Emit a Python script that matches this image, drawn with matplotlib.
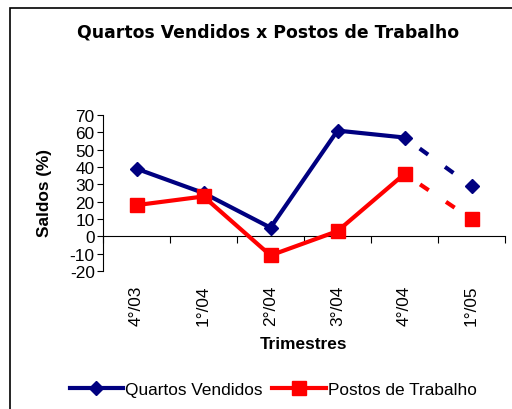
import matplotlib
matplotlib.use("Agg")
import matplotlib.pyplot as plt
from matplotlib.patches import Rectangle
from matplotlib.transforms import blended_transform_factory

trimestres = ["4°/03", "1°/04", "2°/04", "3°/04", "4°/04", "1°/05"]
quartos = [39, 25, 5, 61, 57, 29]
postos = [18, 23, -11, 3, 36, 10]

NAVY, RED = "#000080", "#FF0000"
FS = 12.4
plt.rcParams["font.family"] = ["Liberation Sans", "DejaVu Sans"]
plt.rcParams["axes.unicode_minus"] = False


def main():
    fig = plt.figure(figsize=(5.12, 4.10), dpi=100)
    fig.patches.append(Rectangle((10 / 512, -0.1), 1.2, 1 - 9 / 410 + 0.1,
                                 transform=fig.transFigure, fill=False,
                                 edgecolor="black", lw=1.2))
    ax = fig.add_axes([103 / 512, 1 - 272 / 410, 402 / 512, 156 / 410])
    xs = list(range(len(trimestres)))

    # solid part (observed) + dashed part (forecast)
    for vals, c, mk, ms in [(quartos, NAVY, "D", 7.5), (postos, RED, "s", 9.5)]:
        ax.plot(xs[:-1], vals[:-1], "-", color=c, lw=3, marker=mk, ms=ms, zorder=3)
        ax.plot(xs[-2:], vals[-2:], color=c, lw=3, ls=(3, (2.5, 5)), zorder=3)
        ax.plot(xs[-1:], vals[-1:], ls="none", color=c, marker=mk, ms=ms, zorder=3)

    ax.set_xlim(-0.5, len(trimestres) - 0.5)
    ax.set_ylim(-20, 70)
    ax.set_yticks(range(-20, 71, 10))
    ax.tick_params(axis="y", labelsize=FS, length=4, width=0.8, pad=2)
    for s in ["top", "right"]:
        ax.spines[s].set_visible(False)
    ax.spines["bottom"].set_position(("data", 0))
    ax.set_xticks([x - 0.5 for x in range(len(trimestres) + 1)])
    ax.set_xticklabels([])
    ax.tick_params(axis="x", direction="out", length=5, width=0.8)

    tr = blended_transform_factory(ax.transData, ax.transAxes)
    for x, lab in zip(xs, trimestres):
        ax.text(x, -0.085, lab, transform=tr, rotation=90, ha="center", va="top",
                fontsize=FS)

    fig.text(304 / 512, 1 - 345 / 410, "Trimestres", ha="center", va="center",
             fontsize=FS, fontweight="bold")
    fig.text(45 / 512, 1 - 193 / 410, "Saldos (%)", ha="center", va="center",
             rotation=90, fontsize=FS, fontweight="bold")
    fig.text(268 / 512, 1 - 33 / 410, "Quartos Vendidos x Postos de Trabalho",
             ha="center", va="center", fontsize=FS, fontweight="bold",
             family="DejaVu Sans")

    h1, = ax.plot([], [], "-", color=NAVY, lw=3, marker="D", ms=7.5)
    h2, = ax.plot([], [], "-", color=RED, lw=3, marker="s", ms=9.5)
    fig.legend([h1, h2], ["Quartos Vendidos", "Postos de Trabalho"], loc="center",
               bbox_to_anchor=(273 / 512, 1 - 390 / 410), ncol=2, frameon=False,
               fontsize=FS, handlelength=3.1, handletextpad=0.1, columnspacing=0.6)

    fig.savefig("out.png", dpi=100)


if __name__ == "__main__":
    main()
